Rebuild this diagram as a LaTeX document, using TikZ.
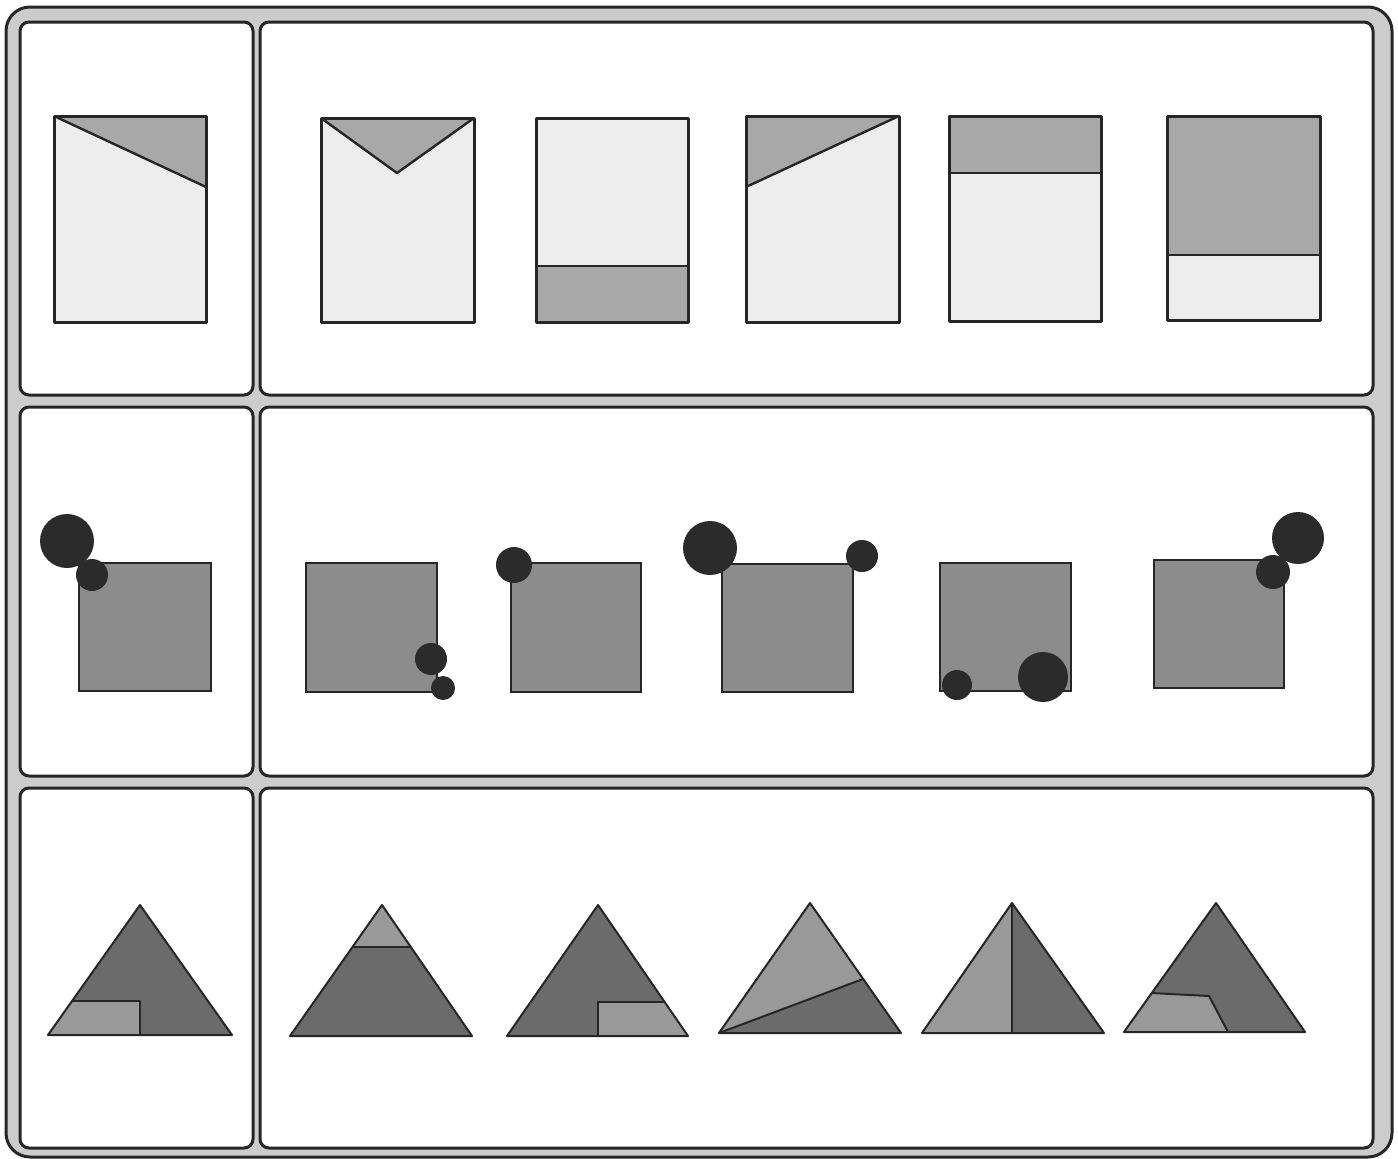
\documentclass[tikz,border=0pt]{standalone}
\begin{document}
\begin{tikzpicture}[x=1pt,y=-1pt,
  frame/.style={draw=black!85,line width=3pt,fill=black!20,rounded corners=24pt},
  panel/.style={draw=black!85,line width=3pt,fill=white,rounded corners=9pt},
  lightpart/.style={fill=black!7},
  darkpart/.style={fill=black!34},
  outline/.style={draw=black!85,line width=3pt,line join=round},
  divider/.style={draw=black!85,line width=2.4pt},
  sq/.style={fill=black!45,draw=black!85,line width=2.4pt},
  dot/.style={fill=black!83},
  tdark/.style={fill=black!58},
  tlight/.style={fill=black!40},
  tline/.style={draw=black!85,line width=2pt,line join=round}]
\useasboundingbox (0,0) rectangle (1398,1159);
\fill[white] (0,0) rectangle (1398,1159);
% outer frame
\path[frame] (6,7) rectangle (1392,1157);
% panels
\path[panel] (20,22) rectangle (253,395);
\path[panel] (260,22) rectangle (1373,395);
\path[panel] (20,407) rectangle (253,776);
\path[panel] (260,407) rectangle (1373,776);
\path[panel] (20,788) rectangle (253,1148);
\path[panel] (260,788) rectangle (1373,1148);

% ---------- row 1 : rectangles ----------
% R0
\fill[lightpart] (54,116) rectangle (206,322);
\fill[darkpart] (54,116) -- (206,116) -- (206,187) -- cycle;
\draw[divider] (54,116) -- (206,187);
\draw[outline] (54,116) rectangle (206,322);
% R1
\fill[lightpart] (321,118) rectangle (474,322);
\fill[darkpart] (321,118) -- (474,118) -- (397,173) -- cycle;
\draw[divider] (321,118) -- (397,173) -- (474,118);
\draw[outline] (321,118) rectangle (474,322);
% R2
\fill[lightpart] (536,118) rectangle (688,322);
\fill[darkpart] (536,266) rectangle (688,322);
\draw[divider] (536,266) -- (688,266);
\draw[outline] (536,118) rectangle (688,322);
% R3
\fill[lightpart] (746,116) rectangle (899,322);
\fill[darkpart] (746,116) -- (899,116) -- (746,187) -- cycle;
\draw[divider] (746,187) -- (899,116);
\draw[outline] (746,116) rectangle (899,322);
% R4
\fill[lightpart] (949,116) rectangle (1101,321);
\fill[darkpart] (949,116) rectangle (1101,173);
\draw[divider] (949,173) -- (1101,173);
\draw[outline] (949,116) rectangle (1101,321);
% R5
\fill[lightpart] (1167,116) rectangle (1320,320);
\fill[darkpart] (1167,116) rectangle (1320,255);
\draw[divider] (1167,255) -- (1320,255);
\draw[outline] (1167,116) rectangle (1320,320);

% ---------- row 2 : squares with dots ----------
\path[sq] (79,563) rectangle (211,691);
\fill[dot] (67,541) circle[radius=27];
\fill[dot] (92,575) circle[radius=16];

\path[sq] (306,563) rectangle (437,692);
\fill[dot] (431,659) circle[radius=16];
\fill[dot] (443,688) circle[radius=12];

\path[sq] (511,563) rectangle (641,692);
\fill[dot] (514,565) circle[radius=18];

\path[sq] (722,564) rectangle (853,692);
\fill[dot] (710,548) circle[radius=27];
\fill[dot] (862,556) circle[radius=16];

\path[sq] (940,563) rectangle (1071,691);
\fill[dot] (957,685) circle[radius=15];
\fill[dot] (1043,677) circle[radius=25];

\path[sq] (1154,560) rectangle (1284,688);
\fill[dot] (1298,538) circle[radius=26];
\fill[dot] (1273,572) circle[radius=17];

% ---------- row 3 : triangles ----------
% T0
\fill[tdark] (140,905) -- (48,1035) -- (232,1035) -- cycle;
\fill[tlight] (72,1001) -- (140,1001) -- (140,1035) -- (48,1035) -- cycle;
\draw[tline] (72,1001) -- (140,1001) -- (140,1035);
\draw[tline] (140,905) -- (48,1035) -- (232,1035) -- cycle;
% T1
\fill[tdark] (382,905) -- (290,1036) -- (472,1036) -- cycle;
\fill[tlight] (382,905) -- (352.5,947) -- (411,947) -- cycle;
\draw[tline] (352.5,947) -- (411,947);
\draw[tline] (382,905) -- (290,1036) -- (472,1036) -- cycle;
% T2
\fill[tdark] (598,905) -- (507,1036) -- (688,1036) -- cycle;
\fill[tlight] (598,1002) -- (665,1002) -- (688,1036) -- (598,1036) -- cycle;
\draw[tline] (598,1036) -- (598,1002) -- (665,1002);
\draw[tline] (598,905) -- (507,1036) -- (688,1036) -- cycle;
% T3
\fill[tlight] (810,903) -- (719,1033) -- (901,1033) -- cycle;
\fill[tdark] (719,1033) -- (863,979) -- (901,1033) -- cycle;
\draw[tline] (719,1033) -- (863,979);
\draw[tline] (810,903) -- (719,1033) -- (901,1033) -- cycle;
% T4
\fill[tlight] (1012,903) -- (922,1033) -- (1012,1033) -- cycle;
\fill[tdark] (1012,903) -- (1012,1033) -- (1104,1033) -- cycle;
\draw[tline] (1012,903) -- (1012,1033);
\draw[tline] (1012,903) -- (922,1033) -- (1104,1033) -- cycle;
% T5
\fill[tdark] (1216,903) -- (1124,1032) -- (1305,1032) -- cycle;
\fill[tlight] (1151,993) -- (1209,996) -- (1228,1032) -- (1124,1032) -- cycle;
\draw[tline] (1151,993) -- (1209,996) -- (1228,1032);
\draw[tline] (1216,903) -- (1124,1032) -- (1305,1032) -- cycle;
\end{tikzpicture}
\end{document}
